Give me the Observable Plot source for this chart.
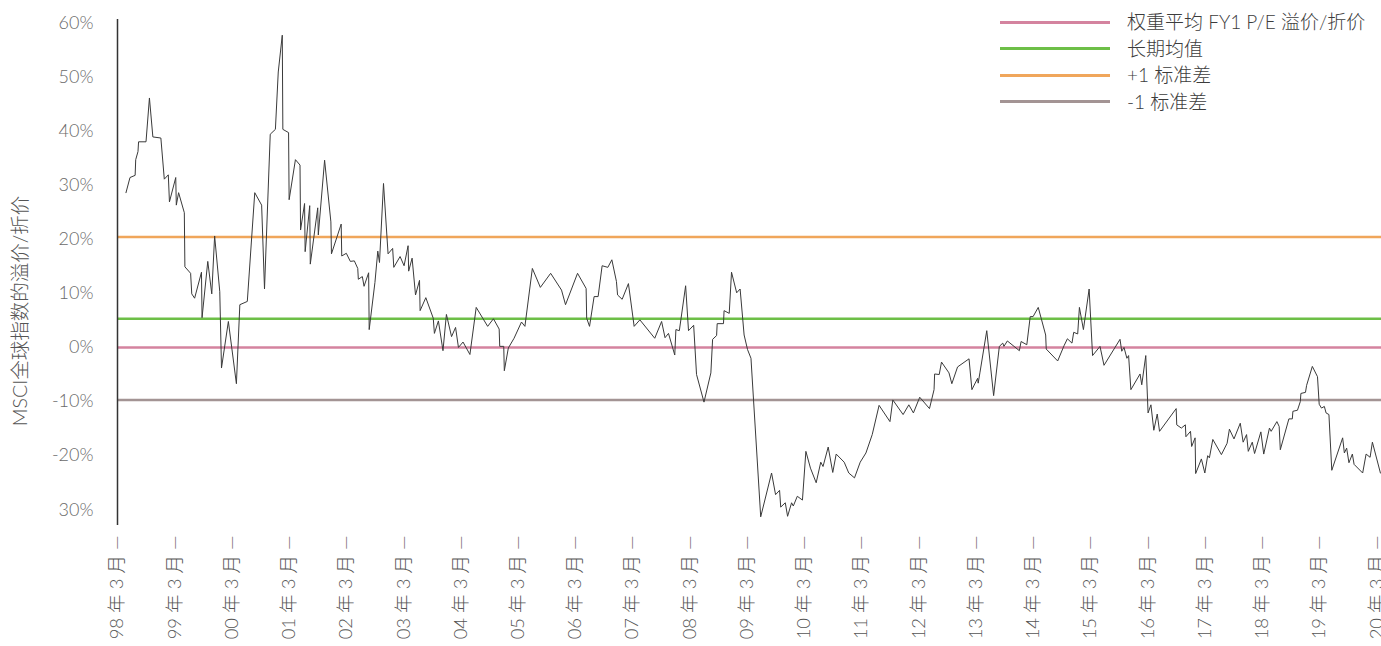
<!DOCTYPE html>
<html>
<head>
<meta charset="utf-8">
<script src="https://cdn.jsdelivr.net/npm/d3@7"></script>
<script src="https://cdn.jsdelivr.net/npm/@observablehq/plot@0.6"></script>
<style>
  body { margin: 0; background: #fff; }
  #wrap { position: relative; width: 1381px; height: 646px; overflow: hidden; background: #fff; }
  #legend { position: absolute; left: 0; top: 0; font-family: Lato, "Noto Sans CJK SC", sans-serif; font-size: 19px; color: #3c3c3c; font-weight: 300; }
  .lg-line { position: absolute; left: 1000px; width: 110px; height: 3px; }
  .lg-text { position: absolute; left: 1127px; height: 24px; line-height: 24px; white-space: nowrap; }
</style>
</head>
<body>
<div id="wrap"><div id="legend"></div></div>
<script>
// ---- data (decimal years, premium/discount in %) ----
const dates = [
  1998.31,1998.38,1998.47,1998.48,1998.52,1998.53,1998.66,1998.72,1998.78,1998.92,
  1998.98,1999.05,1999.07,1999.18,1999.19,1999.23,1999.33,1999.34,1999.44,1999.46,
  1999.51,1999.63,1999.64,1999.74,1999.81,1999.86,1999.95,1999.98,2000.10,2000.24,
  2000.30,2000.43,2000.56,2000.68,2000.73,2000.83,2000.92,2000.97,2001.04,2001.05,
  2001.15,2001.16,2001.27,2001.35,2001.36,2001.43,2001.44,2001.52,2001.53,2001.66,
  2001.67,2001.78,2001.89,2001.90,2002.07,2002.08,2002.16,2002.23,2002.30,2002.36,
  2002.37,2002.44,2002.47,2002.55,2002.56,2002.66,2002.71,2002.74,2002.81,2002.89,
  2002.97,2002.99,2003.10,2003.17,2003.24,2003.25,2003.31,2003.37,2003.44,2003.45,
  2003.55,2003.68,2003.70,2003.77,2003.85,2003.91,2004.00,2004.07,2004.12,2004.20,
  2004.32,2004.43,2004.63,2004.73,2004.83,2004.84,2004.91,2004.92,2004.99,2005.09,
  2005.22,2005.28,2005.41,2005.55,2005.73,2005.92,2005.99,2006.20,2006.35,2006.36,
  2006.41,2006.49,2006.56,2006.63,2006.73,2006.80,2006.88,2006.90,2006.98,2007.09,
  2007.19,2007.29,2007.55,2007.67,2007.73,2007.79,2007.90,2007.92,2007.98,2008.09,
  2008.14,2008.23,2008.28,2008.41,2008.53,2008.56,2008.63,2008.64,2008.75,2008.76,
  2008.85,2008.89,2008.98,2009.04,2009.11,2009.17,2009.23,2009.40,2009.59,2009.66,
  2009.73,2009.75,2009.83,2009.87,2009.94,2009.97,2010.04,2010.13,2010.19,2010.27,
  2010.37,2010.45,2010.49,2010.58,2010.66,2010.72,2010.86,2010.94,2011.04,2011.14,
  2011.24,2011.35,2011.47,2011.66,2011.71,2011.89,2011.99,2012.07,2012.18,2012.35,
  2012.43,2012.44,2012.52,2012.56,2012.69,2012.74,2012.84,2013.04,2013.09,2013.19,
  2013.20,2013.23,2013.35,2013.47,2013.57,2013.63,2013.65,2013.71,2013.92,2013.95,
  2014.05,2014.11,2014.16,2014.25,2014.38,2014.39,2014.59,2014.70,2014.76,2014.84,
  2014.87,2014.94,2014.97,2015.04,2015.14,2015.20,2015.33,2015.40,2015.68,2015.71,
  2015.75,2015.80,2015.83,2015.87,2016.03,2016.06,2016.13,2016.17,2016.22,2016.27,
  2016.33,2016.37,2016.66,2016.67,2016.75,2016.82,2016.83,2016.91,2016.93,2016.99,
  2017.00,2017.10,2017.16,2017.21,2017.24,2017.30,2017.45,2017.55,2017.59,2017.67,
  2017.78,2017.83,2017.89,2017.92,2017.99,2018.03,2018.14,2018.19,2018.29,2018.32,
  2018.42,2018.46,2018.48,2018.63,2018.69,2018.70,2018.78,2018.83,2018.84,2018.92,
  2018.94,2019.04,2019.13,2019.16,2019.20,2019.25,2019.28,2019.33,2019.38,2019.57,
  2019.60,2019.64,2019.68,2019.74,2019.77,2019.92,2019.98,2020.05,2020.09,2020.23
];
const premium = [
  28.6,31.4,31.8,34.7,36.2,38.0,38.0,46.1,38.9,38.7,
  31.1,31.9,26.9,31.4,26.3,28.6,24.9,14.9,13.7,9.9,
  9.1,13.9,5.5,15.9,9.9,20.6,10.3,-3.8,4.8,-6.7,
  7.9,8.5,28.6,26.3,10.8,39.4,40.3,50.9,57.7,40.3,
  39.7,27.3,34.7,33.7,21.7,26.6,17.7,26.2,15.4,25.8,
  20.8,34.6,23.2,17.3,22.8,16.9,17.4,15.9,16.0,14.6,
  12.6,13.1,11.3,13.8,3.3,12.0,17.8,15.7,30.3,17.3,
  18.3,14.8,16.8,15.1,18.8,14.1,16.5,9.7,12.4,6.8,
  9.2,5.4,2.6,4.9,-0.6,6.1,2.0,3.7,0.0,1.0,
  -1.3,7.4,3.9,5.3,3.4,0.2,0.2,-4.3,-0.1,1.7,
  4.7,3.9,14.6,11.1,13.7,10.6,7.9,13.7,10.9,5.4,
  3.9,9.4,9.4,15.1,14.8,16.2,12.2,9.7,8.9,11.8,
  3.9,5.1,1.7,4.8,1.8,2.6,-1.4,3.3,3.1,11.4,
  3.1,4.1,-5.0,-10.1,-4.7,1.5,2.2,4.4,4.4,6.8,
  6.3,13.9,10.1,10.8,2.3,-0.4,-2.0,-31.3,-23.2,-27.2,
  -26.4,-29.5,-28.7,-31.2,-28.7,-29.3,-27.5,-28.2,-19.2,-22.3,
  -25.0,-21.2,-22.0,-18.4,-23.1,-19.7,-21.2,-23.2,-24.1,-21.2,
  -19.5,-16.1,-10.7,-13.7,-9.7,-12.4,-10.6,-12.1,-9.2,-11.3,
  -7.8,-4.9,-5.0,-2.7,-4.7,-6.7,-3.6,-2.1,-7.8,-5.7,
  -6.6,-4.7,3.1,-8.9,0.2,0.8,0.2,1.2,-0.6,1.1,
  0.5,5.7,5.7,7.4,2.3,-0.3,-2.5,0.3,1.6,0.8,
  2.8,2.5,7.4,3.3,10.8,-1.5,0.2,-3.3,1.5,-0.7,
  0.0,-2.0,-1.5,-7.8,-4.9,-6.9,-1.5,-12.1,-10.6,-15.3,
  -12.3,-15.5,-11.3,-14.3,-14.9,-14.3,-16.5,-15.5,-18.3,-16.7,
  -23.3,-20.6,-23.2,-20.0,-20.4,-17.0,-19.8,-17.7,-15.1,-16.9,
  -14.0,-17.5,-16.1,-19.2,-17.5,-19.6,-15.6,-19.7,-14.9,-15.5,
  -13.7,-14.6,-18.9,-13.2,-13.2,-11.8,-11.6,-10.0,-8.5,-8.3,
  -7.0,-3.5,-5.4,-10.5,-11.2,-10.9,-12.1,-12.4,-22.7,-16.7,
  -19.5,-18.6,-21.3,-19.7,-21.6,-23.2,-19.7,-20.3,-17.5,-23.2
];
const levelNames = ["权重平均 FY1 P/E 溢价/折价", "长期均值", "+1 标准差", "-1 标准差"];
const levelValues = [0, 5.3, 20.4, -9.7];
const levelColors = ["#d4839f", "#6dbf47", "#f0a65b", "#a39494"];

const yTicks = [60, 50, 40, 30, 20, 10, 0, -10, -20, -30];
const yTickLabels = ["60%", "50%", "40%", "30%", "20%", "10%", "0%", "-10%", "-20%", "30%"];
const xTickYears = [1998,1999,2000,2001,2002,2003,2004,2005,2006,2007,2008,2009,2010,2011,2012,2013,2014,2015,2016,2017,2018,2019,2020];
const xTickLabels = ["98 年 3 月 —","99 年 3 月 —","00 年 3 月 —","01 年 3 月 —","02 年 3 月 —","03 年 3 月 —","04 年 3 月 —","05 年 3 月 —","06 年 3 月 —","07 年 3 月 —","08 年 3 月 —","09 年 3 月 —","10 年 3 月 —","11 年 3 月 —","12 年 3 月 —","13 年 3 月 —","14 年 3 月 —","15 年 3 月 —","16 年 3 月 —","17 年 3 月 —","18 年 3 月 —","19 年 3 月 —","20 年 3 月 —"];
const yTitle = "MSCI全球指数的溢价/折价";

// ---- build ----
function fromDecimalYear(y) {
  const yr = Math.floor(y);
  const s = Date.UTC(yr, 0, 1), e = Date.UTC(yr + 1, 0, 1);
  return new Date(s + (y - yr) * (e - s));
}
const series = dates.map((d, i) => ({date: fromDecimalYear(d), value: premium[i]}));
const levels = levelValues.map((v, i) => ({name: levelNames[i], value: v, color: levelColors[i]}));
const xTicks = xTickYears.map(y => new Date(Date.UTC(y, 2, 1)));
const x0 = new Date(Date.UTC(1998, 2, 1));
const x1 = new Date(Date.UTC(2020, 3, 1));
const FONT = 'Lato, "Noto Sans CJK SC", sans-serif';

const chart = Plot.plot({
  width: 1381,
  height: 646,
  marginLeft: 117,
  marginRight: 0,
  marginTop: 19,
  marginBottom: 121,
  x: {type: "utc", domain: [x0, x1]},
  y: {domain: [-32.9, 60.6]},
  color: {type: "identity"},
  style: {fontFamily: FONT, background: "#fff", fontWeight: 300},
  marks: [
    Plot.axisY({
      ticks: yTicks,
      tickFormat: d => yTickLabels[yTicks.indexOf(d)],
      tickSize: 0, tickPadding: 24, fontSize: 18, fill: "#6a6a6a", label: null
    }),
    Plot.axisX({
      ticks: xTicks,
      tickFormat: d => xTickLabels[xTickYears.indexOf(d.getUTCFullYear())],
      tickRotate: -90, tickSize: 0, tickPadding: 10, fontSize: 18.5, fill: "#555", label: null
    }),
    Plot.ruleY(levels, {y: "value", stroke: "color", strokeWidth: 2.6}),
    Plot.ruleX([x0], {stroke: "#333", strokeWidth: 1.5}),
    Plot.line(series, {x: "date", y: "value", stroke: "#3a3a3a", strokeWidth: 1})
  ]
});

d3.select(chart).append("text")
  .attr("transform", "translate(27,311) rotate(-90)")
  .attr("text-anchor", "middle")
  .attr("font-size", 19.5)
  .attr("font-family", FONT)
  .attr("font-weight", 300)
  .attr("fill", "#555")
  .text(yTitle);

const wrap = document.getElementById("wrap");
wrap.insertBefore(chart, wrap.firstChild);

const legend = d3.select("#legend");
levels.forEach((l, i) => {
  const cy = 22 + i * 26.6;
  legend.append("div").attr("class", "lg-line")
    .style("top", (cy - 1.5) + "px").style("background", l.color);
  legend.append("div").attr("class", "lg-text")
    .style("top", (cy - 12) + "px").text(l.name);
});
</script>
</body>
</html>
